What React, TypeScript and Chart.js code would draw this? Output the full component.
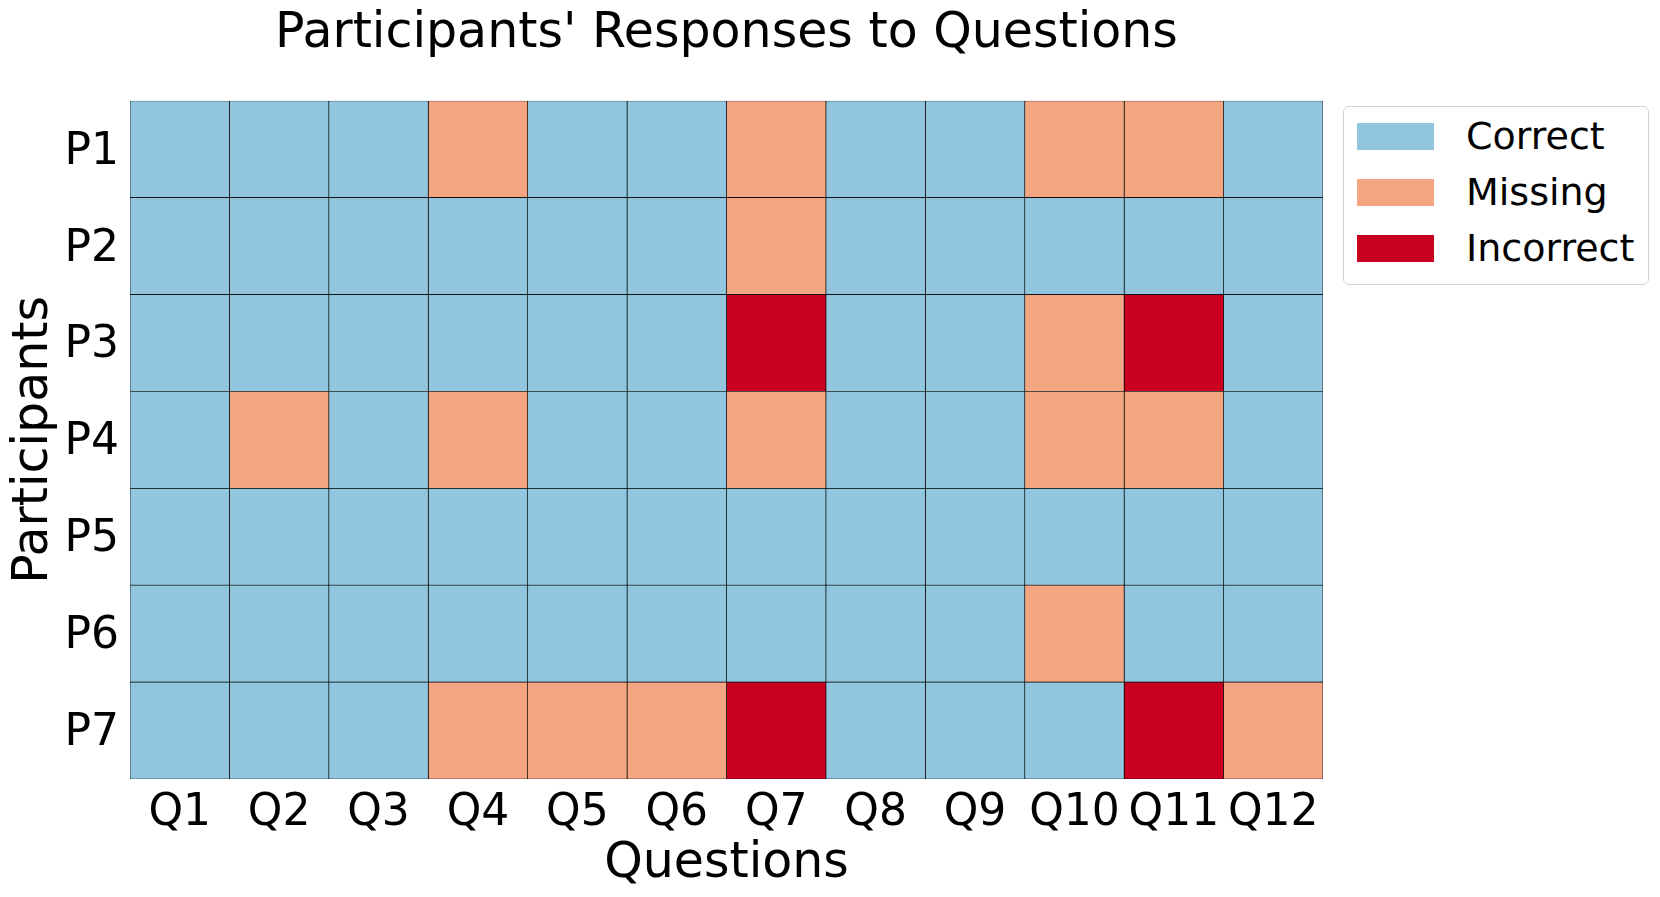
import React, { useEffect, useRef } from "react";
import { Chart, registerables } from "chart.js";

Chart.register(...registerables);

const questions = ["Q1", "Q2", "Q3", "Q4", "Q5", "Q6", "Q7", "Q8", "Q9", "Q10", "Q11", "Q12"];
const participants = ["P1", "P2", "P3", "P4", "P5", "P6", "P7"];
const statusLabels = ["Correct", "Missing", "Incorrect"];
const statusColors = ["#92c5de", "#f4a582", "#ca0020"];

// 0 = Correct, 1 = Missing, 2 = Incorrect
const p1 = [0, 0, 0, 1, 0, 0, 1, 0, 0, 1, 1, 0];
const p2 = [0, 0, 0, 0, 0, 0, 1, 0, 0, 0, 0, 0];
const p3 = [0, 0, 0, 0, 0, 0, 2, 0, 0, 1, 2, 0];
const p4 = [0, 1, 0, 1, 0, 0, 1, 0, 0, 1, 1, 0];
const p5 = [0, 0, 0, 0, 0, 0, 0, 0, 0, 0, 0, 0];
const p6 = [0, 0, 0, 0, 0, 0, 0, 0, 0, 1, 0, 0];
const p7 = [0, 0, 0, 1, 1, 1, 2, 0, 0, 0, 2, 1];
const responses = [p1, p2, p3, p4, p5, p6, p7];

const FONT = "'DejaVu Sans', sans-serif";

export default function App() {
  const ref = useRef<HTMLCanvasElement>(null);

  useEffect(() => {
    document.body.style.margin = "0";
    const canvas = ref.current;
    if (!canvas) return;
    const chart = new Chart(canvas, {
      type: "bar",
      data: {
        labels: participants,
        datasets: questions.map((q, qi) => ({
          label: q,
          data: participants.map(() => 1),
          backgroundColor: responses.map((r) => statusColors[r[qi]]),
          borderColor: "#000000",
          borderWidth: 0.7,
          borderSkipped: false,
          barPercentage: 1,
          categoryPercentage: 1,
          stack: "s",
        })),
      },
      options: {
        indexAxis: "y",
        responsive: false,
        animation: false,
        devicePixelRatio: 1,
        layout: { padding: { left: 0, right: 337, top: 0, bottom: 0 } },
        plugins: {
          legend: { display: false },
          tooltip: { enabled: false },
          title: {
            display: true,
            text: "Participants' Responses to Questions",
            fullSize: false,
            color: "#000000",
            font: { family: FONT, size: 49, weight: "normal" },
            padding: { top: 5, bottom: 37 },
          },
        },
        scales: {
          x: {
            type: "linear",
            stacked: true,
            min: 0,
            max: questions.length,
            grid: { display: false, drawTicks: false },
            border: { display: false },
            afterBuildTicks: (axis: any) => {
              axis.ticks = questions.map((_, i) => ({ value: i + 0.5 }));
            },
            afterFit: (scale: any) => {
              scale.height = 118;
            },
            ticks: {
              autoSkip: false,
              maxRotation: 0,
              color: "#000000",
              padding: 8,
              font: { family: FONT, size: 44 },
              callback: (v: any) => questions[Math.floor(Number(v))],
            },
            title: {
              display: true,
              text: "Questions",
              color: "#000000",
              font: { family: FONT, size: 49 },
              padding: { top: 0, bottom: 3 },
            },
          },
          y: {
            type: "category",
            stacked: true,
            grid: { display: false, drawTicks: false },
            border: { display: false },
            afterFit: (scale: any) => {
              scale.width = 130;
            },
            ticks: {
              color: "#000000",
              padding: 11,
              labelOffset: 3,
              font: { family: FONT, size: 44 },
            },
            title: {
              display: true,
              text: "Participants",
              color: "#000000",
              font: { family: FONT, size: 49 },
              padding: { top: 5, bottom: 0 },
            },
          },
        },
      },
    });
    return () => chart.destroy();
  }, []);

  return (
    <div style={{ position: "relative", width: 1660, height: 897, background: "#ffffff" }}>
      <canvas ref={ref} width={1660} height={897} style={{ position: "absolute", left: 0, top: 0 }} />
      <div
        style={{
          position: "absolute",
          left: 1343,
          top: 106,
          width: 304,
          height: 177,
          border: "1.5px solid #d4d4d4",
          borderRadius: 6,
          background: "#ffffff",
          fontFamily: FONT,
          fontSize: 38,
          color: "#000000",
        }}
      >
        {statusLabels.map((lab, i) => (
          <div
            key={lab}
            style={{ position: "absolute", left: 13, top: 16 + i * 56, height: 27, display: "flex", alignItems: "center" }}
          >
            <div style={{ width: 77, height: 27, background: statusColors[i] }} />
            <span style={{ marginLeft: 32, lineHeight: "27px", whiteSpace: "nowrap" }}>{lab}</span>
          </div>
        ))}
      </div>
    </div>
  );
}
